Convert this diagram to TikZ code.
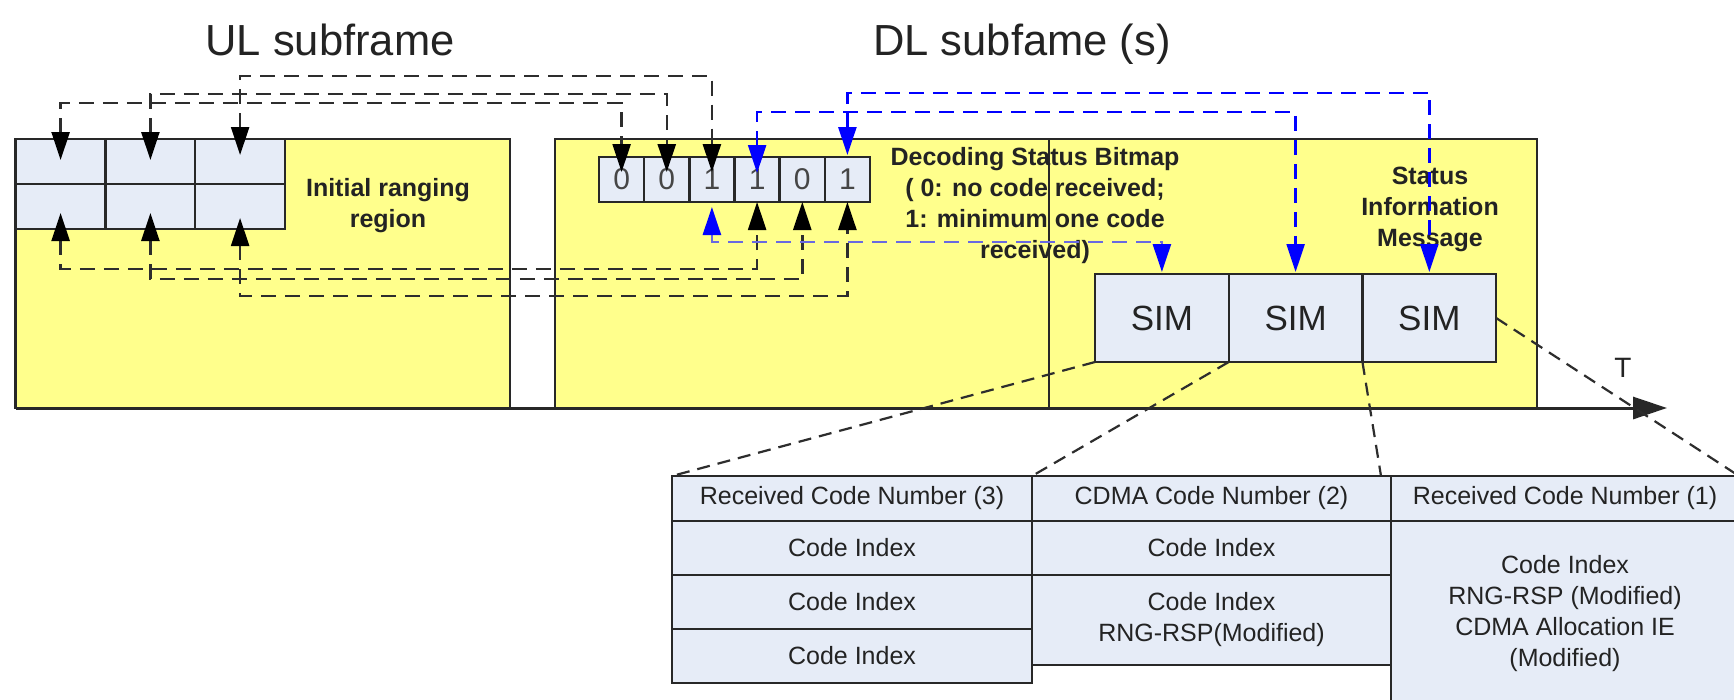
\documentclass[tikz,border=0pt]{standalone}
\usepackage{fontspec}
\setmainfont{Liberation Sans}
\usetikzlibrary{arrows.meta,calc}
\definecolor{ylw}{RGB}{255,255,140}
\definecolor{cellc}{RGB}{230,236,247}
\definecolor{edgec}{RGB}{40,40,40}
\definecolor{dashc}{RGB}{45,45,45}
\definecolor{blu}{RGB}{0,0,255}
\definecolor{lblu}{RGB}{105,105,225}
\definecolor{txtc}{RGB}{35,35,35}
\definecolor{digc}{RGB}{70,70,70}
\newcommand{\myfs}[2]{\fontsize{#1}{#2}\selectfont}
\begin{document}
\begin{tikzpicture}[x=1pt,y=-1pt,
  region/.style={draw=edgec,line width=2.5pt,fill=ylw,inner sep=0pt,outer sep=0pt,rectangle},
  cellbox/.style={draw=edgec,line width=2.5pt,fill=cellc,inner sep=0pt,outer sep=0pt,rectangle},
  gcell/.style={cellbox,minimum width=89.77pt,minimum height=45pt},
  bcell/.style={cellbox,minimum width=45.17pt,minimum height=45pt,text=digc,font=\myfs{30}{36}},
  simbox/.style={cellbox,minimum width=133.7pt,minimum height=88pt,text=txtc,font=\myfs{35}{40}},
  tcell/.style={cellbox,text=txtc,font=\myfs{25}{31},align=center},
  lbl/.style={font=\myfs{25}{31}\bfseries,text=txtc,align=center,inner sep=0pt},
  titlef/.style={font=\myfs{43.5}{50},text=txtc,inner sep=0pt},
  darr/.style={draw=dashc,line width=2.5pt,dash pattern=on 15pt off 9pt,
    {Triangle[length=28pt,width=18pt,color=black]}-{Triangle[length=28pt,width=18pt,color=black]}},
  bdarr/.style={draw=blu,line width=2.5pt,dash pattern=on 15pt off 9pt,
    {Triangle[length=28pt,width=18pt,color=blu]}-{Triangle[length=28pt,width=18pt,color=blu]}},
  tdash/.style={draw=dashc,line width=2.2pt,dash pattern=on 13pt off 8pt}]
\useasboundingbox (0,0) rectangle (1734,699);
\clip (0,0) rectangle (1734,699);
\fill[white] (0,0) rectangle (1734,699);

% titles
\node[titlef,anchor=base] (ult) at (330,55) {UL subframe};
\node[titlef,anchor=base] (dlt) at (1022,55) {DL subfame (s)};

% regions
\node[region,minimum width=494.3pt,minimum height=269pt] (ul) at (262.85,273.5) {};
\node[region,minimum width=982pt,minimum height=269pt] (dl) at (1046,273.5) {};
\coordinate (dv) at (1049,0);
\draw[edgec,line width=2.5pt] (dl.north -| dv) -- (dl.south -| dv);

% grid
\node[gcell] (g11) at (60.6,161.5) {};
\node[gcell] (g12) at (150.4,161.5) {};
\node[gcell] (g13) at (240.1,161.5) {};
\node[gcell] (g21) at (60.6,206.5) {};
\node[gcell] (g22) at (150.4,206.5) {};
\node[gcell] (g23) at (240.1,206.5) {};

% bitmap
\node[bcell] (b1) at (621.6,179.5) {0};
\node[bcell] (b2) at (666.75,179.5) {0};
\node[bcell] (b3) at (711.9,179.5) {1};
\node[bcell] (b4) at (757.1,179.5) {1};
\node[bcell] (b5) at (802.3,179.5) {0};
\node[bcell] (b6) at (847.4,179.5) {1};

% SIM boxes
\node[simbox] (s1) at (1161.9,318) {SIM};
\node[simbox] (s2) at (1295.6,318) {SIM};
\node[simbox] (s3) at (1429.3,318) {SIM};

% labels
\node[lbl] (irr) at (388,205.5) {Initial ranging\\region};
\node[lbl] (dsb) at (1035,206) {Decoding Status Bitmap\\( 0: no code received;\\1: minimum one code\\received)};
\node[lbl] (sinf) at (1430,209) {Status\\Information\\Message};
\node[font=\myfs{28}{32},text=txtc] (tlab) at (1623,368) {T};

% timeline
\coordinate (t0) at (15.7,408);
\coordinate (t1) at (1667,408);
\draw[edgec,line width=3pt,-{Triangle[length=34pt,width=22pt]}] (t0) -- (t1);

% levels
\coordinate (L1) at (0,103);
\coordinate (L2) at (0,94);
\coordinate (L3) at (0,76);
\coordinate (L4) at (0,269);
\coordinate (L5) at (0,279);
\coordinate (L6) at (0,296);
\coordinate (B1) at (0,242);
\coordinate (B2) at (0,112);
\coordinate (B3) at (0,93);

% black connectors
\draw[darr,shorten <=-21pt,shorten >=-15pt] (g11.north) -- (g11.north |- L1) -| (b1.north);
\draw[darr,shorten <=-21pt,shorten >=-15pt] (g12.north) -- (g12.north |- L2) -| (b2.north);
\draw[darr,shorten <=-16pt,shorten >=-15pt] (g13.north) -- (g13.north |- L3) -| (b3.north);
\draw[darr,shorten <=-16pt] (g21.south) -- (g21.south |- L4) -| (b4.south);
\draw[darr,shorten <=-16pt] (g22.south) -- (g22.south |- L5) -| (b5.south);
\draw[darr,shorten <=-11pt] (g23.south) -- (g23.south |- L6) -| (b6.south);

% blue connectors
\draw[bdarr,draw=lblu,shorten <=5pt,shorten >=2pt] (b3.south) -- (b3.south |- B1) -| (s1.north);
\draw[bdarr,shorten <=-16pt,shorten >=2pt] (b4.north) -- (b4.north |- B2) -| (s2.north);
\draw[bdarr,shorten <=2pt,shorten >=2pt] (b6.north) -- (b6.north |- B3) -| (s3.north);

% table
\node[tcell,minimum width=360pt,minimum height=45pt] (h1) at (852,498.5) {Received Code Number (3)};
\node[tcell,minimum width=360pt,minimum height=54pt] (r11) at (852,548) {Code Index};
\node[tcell,minimum width=360pt,minimum height=54pt] (r12) at (852,602) {Code Index};
\node[tcell,minimum width=360pt,minimum height=54pt] (r13) at (852,656) {Code Index};
\node[tcell,minimum width=359pt,minimum height=45pt] (h2) at (1211.5,498.5) {CDMA Code Number (2)};
\node[tcell,minimum width=359pt,minimum height=54pt] (r21) at (1211.5,548) {Code Index};
\node[tcell,minimum width=359pt,minimum height=90pt] (r22) at (1211.5,620) {Code Index\\RNG-RSP(Modified)};
\node[tcell,minimum width=348pt,minimum height=45pt] (h3) at (1565,498.5) {Received Code Number (1)};
\node[tcell,minimum width=348pt,minimum height=186pt] (r31) at (1565,614) {Code Index\\RNG-RSP (Modified)\\CDMA Allocation IE\\(Modified)};

% SIM to table
\draw[tdash] (s1.south west) -- (h1.north west);
\draw[tdash] (s2.south west) -- (h2.north west);
\draw[tdash] (s3.south west) -- ($(h3.north west)+(-10,0)$);
\draw[tdash] (s3.east) -- (h3.north east);
\end{tikzpicture}
\end{document}
